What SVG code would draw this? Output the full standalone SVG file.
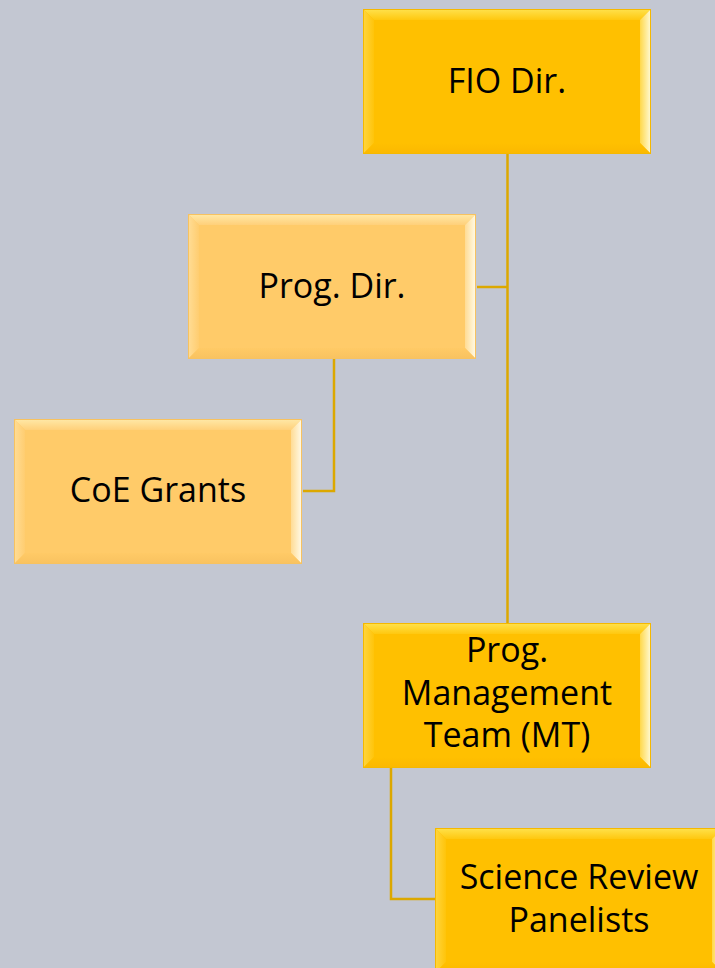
<svg xmlns="http://www.w3.org/2000/svg" xmlns:xlink="http://www.w3.org/1999/xlink" width="715" height="968" viewBox="0 0 715 968">
<style>
.lbl{font-family:"Open Sans","Liberation Sans",sans-serif;font-size:34px;fill:#000;text-anchor:middle}
.conn{fill:none;stroke:#DCA800;stroke-width:2.5}
</style>
<defs>
<linearGradient id="gTopB" x1="0" y1="0" x2="0" y2="1"><stop offset="0" stop-color="#FFE24D"/><stop offset="1" stop-color="#FFC80F"/></linearGradient>
<linearGradient id="gLeftB" x1="0" y1="0" x2="1" y2="0"><stop offset="0" stop-color="#FFD640"/><stop offset="1" stop-color="#FFC40A"/></linearGradient>
<linearGradient id="gRightB" x1="0" y1="0" x2="1" y2="0"><stop offset="0" stop-color="#FFD84A"/><stop offset="1" stop-color="#FFFBD8"/></linearGradient>
<linearGradient id="gBotB" x1="0" y1="0" x2="0" y2="1"><stop offset="0" stop-color="#FFC000"/><stop offset="1" stop-color="#FBB800"/></linearGradient>
<linearGradient id="gTopL" x1="0" y1="0" x2="0" y2="1"><stop offset="0" stop-color="#FFE9A8"/><stop offset="1" stop-color="#FFD07A"/></linearGradient>
<linearGradient id="gLeftL" x1="0" y1="0" x2="1" y2="0"><stop offset="0" stop-color="#FFDD96"/><stop offset="1" stop-color="#FFCD70"/></linearGradient>
<linearGradient id="gRightL" x1="0" y1="0" x2="1" y2="0"><stop offset="0" stop-color="#FFDC94"/><stop offset="1" stop-color="#FFFBEA"/></linearGradient>
<linearGradient id="gBotL" x1="0" y1="0" x2="0" y2="1"><stop offset="0" stop-color="#FFCA66"/><stop offset="1" stop-color="#F8C260"/></linearGradient>
<g id="boxBright">
<rect x="0" y="0" width="288" height="145" fill="#FFC000"/>
<polygon points="0,0 288,0 277,11 11,11" fill="url(#gTopB)"/>
<polygon points="0,0 11,11 11,134 0,145" fill="url(#gLeftB)"/>
<polygon points="288,0 288,145 277,134 277,11" fill="url(#gRightB)"/>
<polygon points="0,145 11,134 277,134 288,145" fill="url(#gBotB)"/>
<rect x="0.5" y="0.5" width="287" height="144" fill="none" stroke="#F5B800" stroke-width="1"/>
</g>
<g id="boxLight">
<rect x="0" y="0" width="288" height="145" fill="#FFCB69"/>
<polygon points="0,0 288,0 277,11 11,11" fill="url(#gTopL)"/>
<polygon points="0,0 11,11 11,134 0,145" fill="url(#gLeftL)"/>
<polygon points="288,0 288,145 277,134 277,11" fill="url(#gRightL)"/>
<polygon points="0,145 11,134 277,134 288,145" fill="url(#gBotL)"/>
<rect x="0.5" y="0.5" width="287" height="144" fill="none" stroke="#F7C260" stroke-width="1"/>
</g>
</defs>
<rect x="0" y="0" width="715" height="968" fill="#C3C7D2"/>
<g id="connectors">
<path class="conn" d="M507.5,154 V623"/>
<path class="conn" d="M477,287 H507.5"/>
<path class="conn" d="M334,358 V491 H303"/>
<path class="conn" d="M391,768 V899 H435"/>
</g>
<g id="fio-dir">
<use xlink:href="#boxBright" x="363" y="9"/>
<text class="lbl" x="507" y="93">FIO Dir.</text>
</g>
<g id="prog-dir">
<use xlink:href="#boxLight" x="188" y="214"/>
<text class="lbl" x="332" y="298">Prog. Dir.</text>
</g>
<g id="coe-grants">
<use xlink:href="#boxLight" x="14" y="419"/>
<text class="lbl" x="158" y="502">CoE Grants</text>
</g>
<g id="prog-mt">
<use xlink:href="#boxBright" x="363" y="623"/>
<text class="lbl" x="507" y="662">Prog.</text>
<text class="lbl" x="507" y="705">Management</text>
<text class="lbl" x="507" y="747">Team (MT)</text>
</g>
<g id="science-review">
<use xlink:href="#boxBright" x="435" y="828"/>
<text class="lbl" x="579" y="889">Science Review</text>
<text class="lbl" x="579" y="932">Panelists</text>
</g>
</svg>
